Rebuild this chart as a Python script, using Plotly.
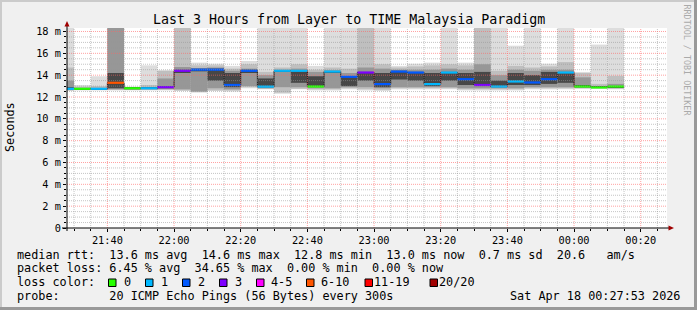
import plotly.graph_objects as go
from datetime import datetime, timedelta

# ---------------- data ----------------
bin_starts = ["21:25", "21:30", "21:35", "21:40", "21:45", "21:50", "21:55",
              "22:00", "22:05", "22:10", "22:15", "22:20", "22:25", "22:30",
              "22:35", "22:40", "22:45", "22:50", "22:55", "23:00", "23:05",
              "23:10", "23:15", "23:20", "23:25", "23:30", "23:35", "23:40",
              "23:45", "23:50", "23:55", "00:00", "00:05", "00:10"]

# smoke layers (milliseconds), outer (lightest) -> inner (darkest)
smoke1_lo = [12.55, 12.6, 12.6, 12.6, 12.6, 12.6, 12.6, 12.55, 12.4, 12.55, 12.5, 12.8,
             12.7, 12.3, 12.7, 12.6, 12.6, 12.7, 12.6, 12.55, 12.7, 12.7, 12.7, 12.7,
             12.6, 12.6, 12.6, 12.6, 12.7, 12.7, 12.7, 12.75, 12.75, 12.7]
smoke1_hi = [18.4, 13.1, 13.9, 18.4, 12.95, 14.9, 14.45, 18.4, 15.15, 15.05, 14.85, 15.3,
             18.4, 18.4, 18.4, 14.85, 18.4, 18.4, 18.4, 18.4, 14.85, 15.05, 15.15, 18.4,
             15.15, 18.4, 18.4, 16.7, 18.4, 15.05, 18.4, 14.3, 16.8, 18.4]
smoke2_lo = [12.6, 12.65, 12.65, 12.65, 12.65, 12.65, 12.65, 12.6, 12.5, 12.6, 12.6, 12.9,
             12.75, 12.4, 12.75, 12.7, 12.7, 12.8, 12.7, 12.65, 12.8, 12.8, 12.8, 12.8,
             12.7, 12.7, 12.7, 12.7, 12.8, 12.8, 12.8, 12.8, 12.8, 12.75]
smoke2_hi = [14.7, 12.95, 13.0, 18.4, 12.9, 13.1, 14.4, 18.4, 14.9, 14.9, 14.6, 15.0,
             14.3, 14.7, 15.0, 14.5, 14.7, 14.6, 18.4, 15.0, 14.7, 14.8, 14.9, 15.0,
             14.9, 18.4, 14.4, 14.85, 14.7, 14.8, 15.2, 14.2, 13.2, 13.94]
smoke3_lo = [12.65, 12.7, 12.7, 12.7, 12.7, 12.7, 12.75, 12.7, 12.5, 12.8, 12.7, 13.0,
             12.8, 12.9, 12.9, 12.8, 12.8, 12.9, 12.9, 12.8, 12.9, 12.9, 12.9, 12.9,
             12.8, 12.8, 12.8, 12.8, 12.9, 12.9, 12.9, 12.85, 12.85, 12.85]
smoke3_hi = [13.5, 12.85, 12.85, 18.4, 12.85, 12.9, 13.7, 14.75, 14.6, 14.7, 14.4, 14.6,
             14.0, 14.5, 14.6, 14.3, 14.4, 14.2, 14.7, 14.6, 14.5, 14.5, 14.5, 14.6,
             14.5, 15.0, 14.0, 14.5, 14.4, 14.5, 14.5, 13.8, 13.0, 13.2]
smoke4_lo = [12.7, 12.72, 12.72, 12.8, 12.75, 12.75, 12.8, 14.2, 14.35, 13.5, 12.9, 14.2,
             12.9, 14.3, 13.3, 13.0, 14.2, 13.0, 13.5, 12.9, 13.6, 13.5, 13.0, 13.5,
             13.1, 13.0, 12.9, 13.1, 13.1, 13.2, 13.3, 12.9, 12.88, 12.9]
smoke4_hi = [12.9, 12.8, 12.8, 14.2, 12.85, 12.85, 13.0, 14.5, 14.6, 14.6, 14.2, 14.5,
             13.7, 14.45, 14.4, 13.9, 14.4, 13.85, 14.3, 14.2, 14.4, 14.3, 14.2, 14.3,
             14.2, 14.3, 13.5, 14.2, 14.0, 14.3, 14.3, 13.1, 12.95, 13.0]
median_rtt = [12.75, 12.75, 12.75, 13.3, 12.8, 12.8, 12.9, 14.4, 14.5, 14.5, 13.1, 14.4,
              12.95, 14.4, 14.4, 12.96, 14.33, 13.85, 14.24, 13.18, 14.33, 14.24, 13.18, 14.24,
              13.63, 13.1, 12.96, 13.42, 13.33, 13.63, 14.24, 12.96, 12.87, 12.96]
loss_class = [1, 0, 1, 5, 0, 1, 3, 3, 2, 2, 2, 2, 1, 1, 1, 0, 1, 2, 3, 2, 2, 2, 1, 1,
              2, 3, 1, 1, 2, 2, 1, 0, 0, 0]

loss_labels = ["0", "1", "2", "3", "4-5", "6-10", "11-19", "20/20"]
loss_colors = ["#26ff00", "#00b8ff", "#0059ff", "#7e00ff", "#ff00ff", "#ff5500", "#ff0000", "#a10000"]

y_tick_vals = [0, 2, 4, 6, 8, 10, 12, 14, 16, 18]
y_tick_text = ["0", "2 m", "4 m", "6 m", "8 m", "10 m", "12 m", "14 m", "16 m", "18 m"]

title_text = "Last 3 Hours from Layer to TIME Malaysia Paradigm"
rtt_stats = ["13.6 ms avg", "14.6 ms max", "12.8 ms min", "13.0 ms now", "0.7 ms sd", "20.6   am/s"]
loss_stats = ["6.45 % avg", "34.65 % max", "0.00 % min", "0.00 % now"]
probe_text = "20 ICMP Echo Pings (56 Bytes) every 300s"
stamp_text = "Sat Apr 18 00:27:53 2026"

# ---------------- geometry ----------------
W, H = 697, 310
L, T, PW, PH = 67, 28, 600, 200
FONT = "DejaVu Sans Mono"
STEP = timedelta(minutes=5)
t_start = datetime(2026, 4, 17, 21, 27, 53)
t_end = datetime(2026, 4, 18, 0, 27, 53)
Y_MAX = 18.32


def to_dt(hhmm):
    h, m = map(int, hhmm.split(":"))
    day = 17 if h >= 12 else 18
    return datetime(2026, 4, day, h, m)


def px_x(px):
    return (px - L) / PW


def px_y(py):
    return (T + PH - py) / PH


def nb(s):
    return s.replace(" ", "\u00a0")


starts = [to_dt(s) for s in bin_starts]
centers = [s + STEP / 2 for s in starts]
ends = [s + STEP for s in starts]

fig = go.Figure()

layers = [(smoke1_lo, smoke1_hi, "#dddddd"),
          (smoke2_lo, smoke2_hi, "#bfbfbf"),
          (smoke3_lo, smoke3_hi, "#979797"),
          (smoke4_lo, smoke4_hi, "#474747")]
for lo, hi, col in layers:
    fig.add_trace(go.Bar(
        x=centers, base=lo, y=[h - l for l, h in zip(lo, hi)],
        width=[STEP.total_seconds() * 1000] * len(centers),
        marker=dict(color=col, line=dict(width=0)),
        hoverinfo="skip", showlegend=False))

# step connector of the medians
fig.add_trace(go.Scatter(
    x=starts + [ends[-1]], y=median_rtt + [median_rtt[-1]],
    mode="lines", line=dict(color="#202020", width=1, shape="hv"),
    hoverinfo="skip", showlegend=False))

# coloured median segments per loss class
for ci, col in enumerate(loss_colors):
    xs, ys = [], []
    for s, e, m, c in zip(starts, ends, median_rtt, loss_class):
        if c == ci:
            xs += [s, e, None]
            ys += [m, m, None]
    if xs:
        fig.add_trace(go.Scatter(x=xs, y=ys, mode="lines",
                                 line=dict(color=col, width=2.2),
                                 hoverinfo="skip", showlegend=False))

shapes = []
# grid lines above the data (like rrdtool)
minor_col = "rgba(150,150,150,0.55)"
major_col = "rgba(255,100,100,0.6)"
t = datetime(2026, 4, 17, 21, 30)
while t < t_end:
    major = (t.minute % 20 == 0)
    shapes.append(dict(type="line", xref="x", yref="paper", x0=t, x1=t, y0=0, y1=1,
                       line=dict(color=major_col if major else minor_col, width=1, dash="1px,1px"),
                       layer="above"))
    t += STEP
k = 1
while k * 0.5 <= Y_MAX:
    v = k * 0.5
    major = (k % 4 == 0)
    shapes.append(dict(type="line", xref="paper", yref="y", x0=0, x1=1, y0=v, y1=v,
                       line=dict(color=major_col if major else minor_col, width=1, dash="1px,1px"),
                       layer="above"))
    k += 1

# axis lines and arrows
shapes.append(dict(type="line", xref="paper", yref="paper", x0=px_x(62), x1=px_x(669),
                   y0=0, y1=0, line=dict(color="#000000", width=1), layer="above"))
shapes.append(dict(type="line", xref="paper", yref="paper", x0=0, x1=0,
                   y0=px_y(231), y1=px_y(25), line=dict(color="#000000", width=1), layer="above"))
shapes.append(dict(type="path", xref="paper", yref="paper",
                   path="M {:.5f},{:.5f} L {:.5f},{:.5f} L {:.5f},{:.5f} Z".format(
                       px_x(64.5), px_y(26.5), px_x(69.5), px_y(26.5), px_x(67), px_y(21)),
                   fillcolor="#a00000", line=dict(width=0), layer="above"))
shapes.append(dict(type="path", xref="paper", yref="paper",
                   path="M {:.5f},{:.5f} L {:.5f},{:.5f} L {:.5f},{:.5f} Z".format(
                       px_x(668.5), px_y(225.5), px_x(668.5), px_y(230.5), px_x(674), px_y(228)),
                   fillcolor="#a00000", line=dict(width=0), layer="above"))

# frame of the image
shapes += [
    dict(type="line", xref="paper", yref="paper", x0=px_x(0), x1=px_x(W), y0=px_y(1), y1=px_y(1),
         line=dict(color="#cbcbcb", width=2)),
    dict(type="line", xref="paper", yref="paper", x0=px_x(1), x1=px_x(1), y0=px_y(0), y1=px_y(H),
         line=dict(color="#cbcbcb", width=2)),
    dict(type="line", xref="paper", yref="paper", x0=px_x(0), x1=px_x(W), y0=px_y(308.5), y1=px_y(308.5),
         line=dict(color="#999999", width=3)),
    dict(type="line", xref="paper", yref="paper", x0=px_x(695.5), x1=px_x(695.5), y0=px_y(0), y1=px_y(H),
         line=dict(color="#999999", width=3)),
]

annotations = []


def text(x, y, s, size=11.8, anchor="left", color="#000000", angle=0):
    annotations.append(dict(xref="paper", yref="paper", x=px_x(x), y=px_y(y), text=nb(s),
                            showarrow=False, xanchor=anchor, yanchor="middle", borderpad=0,
                            textangle=angle, font=dict(family=FONT, size=size, color=color)))


text(348.5, 19, title_text, size=13.3, anchor="center")
text(10, 127, "Seconds", size=11.8, anchor="center", angle=-90)
text(686.5, 60, "RRDTOOL / TOBI OETIKER", size=8.4, anchor="center", color="#aaaaaa", angle=90)

line1 = "median rtt:  " + "  ".join(rtt_stats)
line2 = "packet loss: " + "  ".join(loss_stats)
text(15.5, 254.5, line1)
text(15.5, 268, line2)
text(15.5, 282, "loss color:")
box_x = [108.5, 145.5, 182.5, 219.5, 256.5, 306.5, 365, 430]
lab_x = [122.5, 159.5, 196.5, 233.5, 269.5, 319.5, 372.5, 437.5]
for bx, lx, lab, col in zip(box_x, lab_x, loss_labels, loss_colors):
    shapes.append(dict(type="rect", xref="paper", yref="paper",
                       x0=px_x(bx), x1=px_x(bx + 7.5), y0=px_y(286.5), y1=px_y(279),
                       fillcolor=col, line=dict(color="#000000", width=1)))
    text(lx, 282, lab)
text(15.5, 295.5, "probe:       " + probe_text)
text(681, 295.5, stamp_text, anchor="right")

fig.update_layout(
    width=W, height=H,
    margin=dict(l=L, r=W - L - PW, t=T, b=H - T - PH, pad=0),
    paper_bgcolor="#f0f0f0", plot_bgcolor="#ffffff",
    barmode="overlay", showlegend=False,
    font=dict(family=FONT, color="#000000"),
    shapes=shapes, annotations=annotations,
    xaxis=dict(type="date", range=[t_start, t_end], showgrid=False, zeroline=False,
               showline=False, tickformat="%H:%M", tick0="2026-04-17 21:40:00",
               dtick=20 * 60 * 1000, ticks="outside", ticklen=3, tickcolor="#000000",
               tickfont=dict(family=FONT, size=10.3, color="#000000"),
               minor=dict(ticks="outside", ticklen=2, dtick=5 * 60 * 1000,
                          tick0="2026-04-17 21:30:00", tickcolor="#000000", showgrid=False),
               fixedrange=True),
    yaxis=dict(range=[0, Y_MAX], showgrid=False, zeroline=False, showline=False,
               tickvals=y_tick_vals, ticktext=y_tick_text, ticks="outside", ticklen=3,
               tickcolor="#000000", tickfont=dict(family=FONT, size=10.3, color="#000000"),
               minor=dict(ticks="outside", ticklen=2, dtick=0.5, tick0=0,
                          tickcolor="#000000", showgrid=False),
               fixedrange=True),
)

fig.write_html("out.html", config={"displayModeBar": False})
